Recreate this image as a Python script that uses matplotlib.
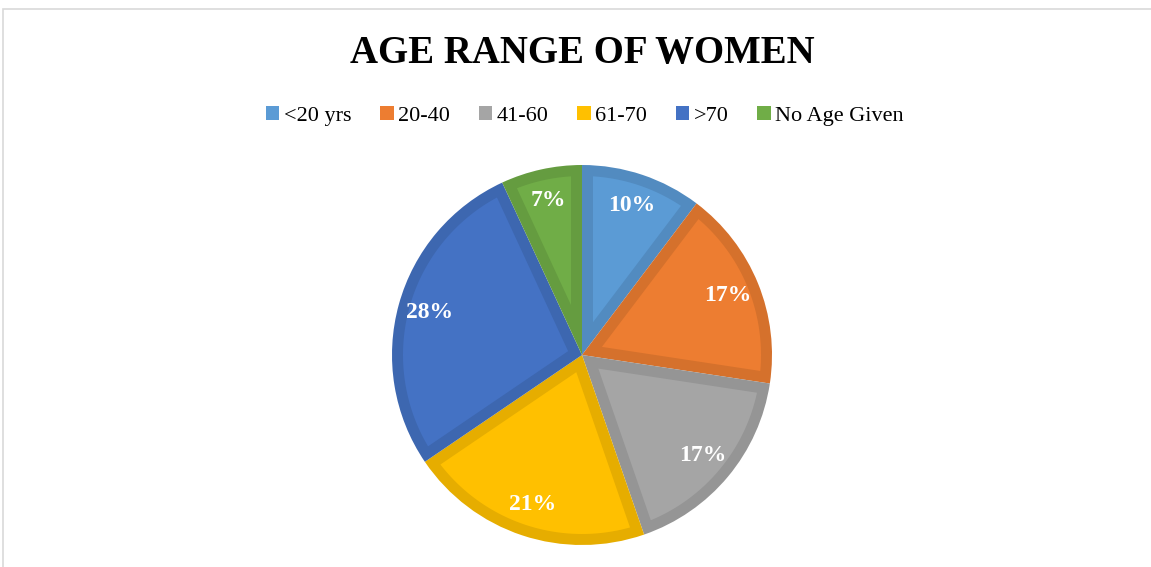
import numpy as np
import matplotlib.pyplot as plt
from matplotlib.patches import Patch, Rectangle, Polygon
from matplotlib.colors import to_rgb

plt.rcParams['font.family'] = ['Liberation Serif', 'DejaVu Serif']

categories = ['<20 yrs', '20-40', '41-60', '61-70', '>70', 'No Age Given']
shares = [10.3, 17.1, 17.3, 20.8, 27.6, 6.9]
colors = ['#5B9BD5', '#ED7D31', '#A5A5A5', '#FFC000', '#4472C4', '#70AD47']


def darker(c, f=0.9):
    return tuple(v * f for v in to_rgb(c))


W, H = 1151, 567
fig = plt.figure(figsize=(W / 100, H / 100), dpi=100)

# chart frame
fig.patches.append(Rectangle((3 / W, -0.1), 1.2, 1 - 9 / H + 0.1, transform=fig.transFigure,
                             fill=False, edgecolor='#D9D9D9', linewidth=1.2))

cx, cy, r = 582, 355, 190
ax = fig.add_axes([(cx - r) / W, (H - cy - r) / H, 2 * r / W, 2 * r / H])

# outer layer in the darker border colour
wedges, texts, autotexts = ax.pie(
    shares, colors=[darker(c) for c in colors], startangle=90, counterclock=False,
    autopct='%1.0f%%', pctdistance=0.83,
    textprops=dict(color='white', fontsize=17, fontweight='bold', zorder=5))

# inner fill, inset by the border width
d = 11 / r
for w, c in zip(wedges, colors):
    t1, t2 = np.radians(w.theta1), np.radians(w.theta2)
    half = (t2 - t1) / 2
    mid = (t1 + t2) / 2
    apex = d / np.sin(half)
    rin = w.r - d
    delta = np.arcsin(d / rin)
    arc = np.linspace(t1 + delta, t2 - delta, 100)
    pts = [(apex * np.cos(mid), apex * np.sin(mid))]
    pts += list(zip(rin * np.cos(arc), rin * np.sin(arc)))
    ax.add_patch(Polygon(pts, closed=True, facecolor=c, edgecolor='none', zorder=2))

ax.set_xlim(-1, 1)
ax.set_ylim(-1, 1)
ax.axis('off')

fig.text(cx / W, 1 - 54 / H, 'AGE RANGE OF WOMEN', ha='center', va='center',
         fontsize=28, fontweight='bold')

handles = [Patch(facecolor=c, edgecolor='none') for c in colors]
fig.legend(handles, categories, loc='center', bbox_to_anchor=(585 / W, 1 - 116 / H),
           ncol=6, frameon=False, fontsize=16, handlelength=0.6, handleheight=0.6,
           handletextpad=0.2, columnspacing=1.3)

fig.savefig('out.png', dpi=100)
